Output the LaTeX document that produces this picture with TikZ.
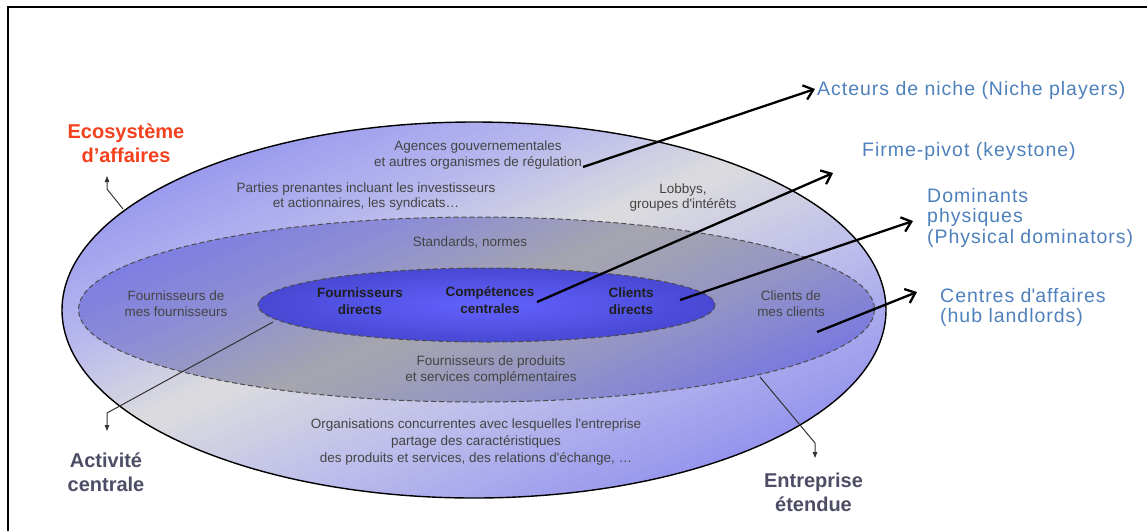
\documentclass[tikz,border=0pt]{standalone}
\usepackage{fontspec}
\setmainfont{Liberation Sans}
\usetikzlibrary{arrows.meta}
\definecolor{oA}{HTML}{9494EE}
\definecolor{oB}{HTML}{B8B8EE}
\definecolor{oC}{HTML}{DCDCDE}
\definecolor{oD}{HTML}{BCBCEC}
\definecolor{oE}{HTML}{9292EE}
\definecolor{mA}{HTML}{7A7AE6}
\definecolor{mB}{HTML}{8E8ED4}
\definecolor{mC}{HTML}{A6A6AE}
\definecolor{mD}{HTML}{9494C6}
\definecolor{mE}{HTML}{7474E4}
\definecolor{iIn}{HTML}{6262FF}
\definecolor{iOut}{HTML}{4848D4}
\definecolor{txtgray}{HTML}{444444}
\definecolor{blueLbl}{HTML}{4F81BD}
\definecolor{redLbl}{HTML}{F4401C}
\definecolor{darkLbl}{HTML}{4D4D66}
\definecolor{connGray}{HTML}{333333}
\tikzset{
  graytxt/.style={font=\fontsize{13.5}{16.5}\selectfont, text=txtgray, align=center, inner sep=0pt},
  boldtxt/.style={font=\bfseries\fontsize{13.5}{17}\selectfont, text=black!88, align=center, inner sep=0pt},
  biglbl/.style={font=\bfseries\fontsize{20}{24}\selectfont, align=center, inner sep=0pt},
  bluelbl/.style={font=\fontsize{19.5}{20.5}\selectfont\addfontfeature{LetterSpace=5}, text=blueLbl, align=left, inner sep=0pt},
  bigarrow/.style={line width=2.3pt, -{Straight Barb[length=9pt,width=15pt]}},
  thinarrow/.style={line width=1pt, draw=connGray, -{Triangle[length=6pt,width=4.5pt]}},
  ringdash/.style={draw=black!70, line width=1pt, dash pattern=on 5pt off 3pt},
}
\begin{document}
\begin{tikzpicture}[x=1pt,y=-1pt]
\useasboundingbox (0,0) rectangle (1147,531);
\fill[white] (0,0) rectangle (1147,531);

% outer ring
\begin{scope}
  \clip (474,310) ellipse [x radius=412, y radius=188];
  \begin{scope}[shift={(474,310)}, rotate=23.6]
    \foreach \ta/\tb/\ca/\cb in {-260/-130/oA/oB, -130/-30/oB/oC, -30/100/oC/oD, 100/250/oD/oE}{
      \foreach \k in {0,...,15}{
        \pgfmathsetmacro\yy{\ta+(\tb-\ta)*\k/16}
        \pgfmathsetmacro\hh{(\tb-\ta)/16+1.5}
        \pgfmathtruncatemacro\pp{100-100*(\k+0.5)/16}
        \fill[\ca!\pp!\cb] (-700,\yy) rectangle ++(1400,\hh);
      }
    }
  \end{scope}
\end{scope}
\draw[line width=1.4pt] (474,310) ellipse [x radius=412, y radius=188];

% middle ring
\begin{scope}
  \clip (476.5,309.5) ellipse [x radius=398, y radius=92.5];
  \begin{scope}[shift={(476.5,309.5)}, rotate=23.6]
    \foreach \ta/\tb/\ca/\cb in {-200/-100/mA/mB, -100/-5/mB/mC, -5/90/mC/mD, 90/200/mD/mE}{
      \foreach \k in {0,...,15}{
        \pgfmathsetmacro\yy{\ta+(\tb-\ta)*\k/16}
        \pgfmathsetmacro\hh{(\tb-\ta)/16+1.5}
        \pgfmathtruncatemacro\pp{100-100*(\k+0.5)/16}
        \fill[\ca!\pp!\cb] (-700,\yy) rectangle ++(1400,\hh);
      }
    }
  \end{scope}
\end{scope}
\draw[ringdash] (476.5,309.5) ellipse [x radius=398, y radius=92.5];

% inner core
\shade[inner color=iIn, outer color=iOut] (486.5,305) ellipse [x radius=228.5, y radius=37];
\draw[ringdash] (486.5,305) ellipse [x radius=228.5, y radius=37];

% frame
\draw[line width=2.5pt] (1147,7) -- (8,7) -- (8,531);

% gray texts
\node[graytxt] (agences) at (478,155) {Agences gouvernementales\\et autres organismes de régulation};
\node[graytxt, font=\fontsize{13.5}{15.5}\selectfont] (parties) at (366,196.5) {Parties prenantes incluant les investisseurs\\et actionnaires, les syndicats…};
\node[graytxt, font=\fontsize{13.5}{14.5}\selectfont] (lobbys) at (683,197.5) {Lobbys,\\groupes d\textquotesingle intérêts};
\node[graytxt] (standards) at (470,242) {Standards, normes};
\node[graytxt, font=\fontsize{13.5}{16}\selectfont] (fdmf) at (176,304) {Fournisseurs de\\mes fournisseurs};
\node[graytxt, font=\fontsize{13.5}{16}\selectfont] (cdmc) at (791,304) {Clients de\\mes clients};
\node[graytxt, font=\fontsize{13.5}{16}\selectfont] (complem) at (491,369.5) {Fournisseurs de produits\\et services complémentaires};
\node[graytxt, font=\fontsize{13.5}{17}\selectfont] (concur) at (476,441.5) {Organisations concurrentes avec lesquelles l\textquotesingle entreprise\\partage des caractéristiques\\des produits et services, des relations d\textquotesingle échange, …};

% bold core texts
\node[boldtxt] (fdir) at (360,301.5) {Fournisseurs\\directs};
\node[boldtxt] (comp) at (490,300.5) {Compétences\\centrales};
\node[boldtxt] (cdir) at (631,301.5) {Clients\\directs};

% big labels
\node[biglbl, text=redLbl] (eco) at (126,143) {Ecosystème\\d’affaires};
\node[biglbl, text=darkLbl] (act) at (106,472) {Activité\\centrale};
\node[biglbl, text=darkLbl] (ent) at (813.5,492.5) {Entreprise\\étendue};

% blue labels
\node[bluelbl, anchor=base west] (niche) at (817,95) {Acteurs de niche (Niche players)};
\node[bluelbl, anchor=base west] (pivot) at (862,156) {Firme-pivot (keystone)};
\node[bluelbl, anchor=north west] (dom) at (927,188) {Dominants\\physiques\\(Physical dominators)};
\node[bluelbl, anchor=north west] (hub) at (940,288) {Centres d\textquotesingle affaires\\(hub landlords)};

% connector points
\coordinate (s1) at (583,167);  \coordinate (t1) at (815,89);
\coordinate (s2) at (537,302);  \coordinate (t2) at (833,173);
\coordinate (s3) at (680,300);  \coordinate (t3) at (913,221);
\coordinate (s4) at (817,332);  \coordinate (t4) at (917,292);

\coordinate (ecoA) at (123,209); \coordinate (ecoB) at (107,189); \coordinate (ecoC) at (107,176);
\coordinate (actA) at (273,322); \coordinate (actB) at (107,413); \coordinate (actC) at (107,431);
\coordinate (entA) at (760,377); \coordinate (entB) at (815,443); \coordinate (entC) at (815,458);

% thin annotation connectors
\draw[thinarrow] (ecoA) -- (ecoB) -- (ecoC);
\draw[thinarrow] (actA) -- (actB) -- (actC);
\draw[thinarrow] (entA) -- (entB) -- (entC);

% thick arrows
\draw[bigarrow] (s1) -- (t1);
\draw[bigarrow] (s2) -- (t2);
\draw[bigarrow] (s3) -- (t3);
\draw[bigarrow] (s4) -- (t4);
\end{tikzpicture}
\end{document}
